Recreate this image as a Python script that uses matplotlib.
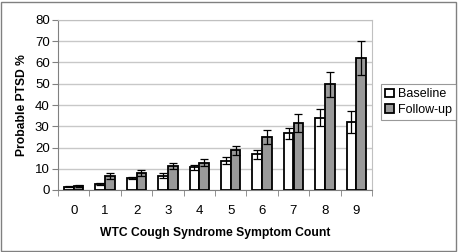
import numpy as np
import matplotlib.pyplot as plt
from matplotlib.patches import Rectangle

# symptom count categories
counts = [0, 1, 2, 3, 4, 5, 6, 7, 8, 9]

# probable PTSD %
baseline = [1.6, 2.8, 5.6, 6.8, 10.8, 13.8, 16.8, 26.6, 34.0, 31.8]
followup = [1.9, 6.6, 8.0, 11.4, 12.9, 18.6, 25.0, 31.6, 49.7, 62.3]

# half-width of the error bars
baseline_err = [0.4, 0.5, 0.6, 1.0, 1.2, 1.6, 2.0, 2.8, 4.0, 5.2]
followup_err = [0.5, 1.2, 1.3, 1.5, 1.6, 2.2, 3.2, 4.1, 5.8, 8.0]

plt.rcParams['font.family'] = ['Liberation Sans', 'DejaVu Sans']

fig = plt.figure(figsize=(4.58, 2.52), dpi=100)
ax = fig.add_axes([58 / 458, 1 - 190 / 252, 314 / 458, 170 / 252])

x = np.arange(len(counts))
w = 0.31
ax.bar(x - w / 2, baseline, w, color='white', edgecolor='black', linewidth=1.3,
       label='Baseline', zorder=3)
ax.bar(x + w / 2, followup, w, color='#999999', edgecolor='black', linewidth=1.3,
       label='Follow-up', zorder=3)
ax.errorbar(x - w / 2, baseline, yerr=baseline_err, fmt='none', ecolor='black',
            elinewidth=0.9, capsize=3, capthick=0.9, zorder=4)
ax.errorbar(x + w / 2, followup, yerr=followup_err, fmt='none', ecolor='black',
            elinewidth=0.9, capsize=3, capthick=0.9, zorder=4)

ax.set_xlim(-0.5, len(counts) - 0.5)
ax.set_ylim(0, 80)
ax.set_yticks(range(0, 81, 10))
ax.set_xticks(x)
ax.set_xticklabels([str(c) for c in counts])
ax.set_xticks(np.arange(-0.5, len(counts), 1), minor=True)
ax.tick_params(axis='x', which='major', length=0, pad=11, labelsize=9.5)
ax.tick_params(axis='x', which='minor', length=4, direction='out', color='#808080')
ax.tick_params(axis='y', length=4, direction='out', color='#808080', labelsize=9.5, pad=2)

ax.yaxis.grid(True, color='#c8c8c8', linewidth=1.0, zorder=0)
ax.set_axisbelow(True)
for side in ['left', 'bottom']:
    ax.spines[side].set_color('#808080')
for side in ['top', 'right']:
    ax.spines[side].set_color('#c0c0c0')

ax.set_xlabel('WTC Cough Syndrome Symptom Count', fontsize=8.7, fontweight='bold', labelpad=7)
ax.set_ylabel('Probable PTSD %', fontsize=8.7, fontweight='bold', labelpad=5)

leg = fig.legend(loc='upper left', bbox_to_anchor=(381 / 458, 1 - 84 / 252),
                 fontsize=9, frameon=True, fancybox=False, handlelength=0.7,
                 handleheight=0.7, handletextpad=0.3, borderpad=0.35,
                 labelspacing=0.3, borderaxespad=0)
leg.get_frame().set_edgecolor('#808080')
leg.get_frame().set_linewidth(0.8)

# outer chart border
fig.patches.append(Rectangle((0.003, 0.004), 0.993, 0.99, transform=fig.transFigure,
                             fill=False, edgecolor='#808080', linewidth=1.0))

fig.savefig('out.png', dpi=100)
